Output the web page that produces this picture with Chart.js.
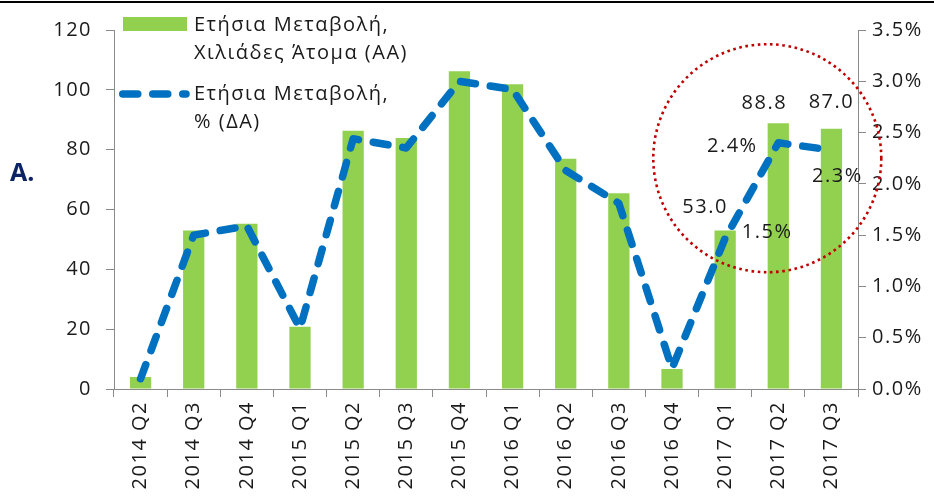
<!DOCTYPE html>
<html>
<head>
<meta charset="utf-8">
<script src="https://cdn.jsdelivr.net/npm/chart.js@4.4.1/dist/chart.umd.min.js"></script>
<style>
 html, body { margin: 0; padding: 0; background: #fff; }
 #wrap { position: relative; width: 934px; height: 497px; overflow: hidden; }
 #topline { position: absolute; left: 0; top: 1px; width: 934px; height: 2px; background: #000; }
 #mark { position: absolute; left: 10px; top: 154px; font: bold 25px "Open Sans"; color: #0c2466; }
</style>
</head>
<body>
<div id="wrap">
 <canvas id="chart" width="934" height="497"></canvas>
 <div id="topline"></div>
 <div id="mark">A.</div>
</div>
<script>
const quarters = ["2014 Q2", "2014 Q3", "2014 Q4", "2015 Q1", "2015 Q2", "2015 Q3", "2015 Q4",
 "2016 Q1", "2016 Q2", "2016 Q3", "2016 Q4", "2017 Q1", "2017 Q2", "2017 Q3"]

// annual change, thousands of persons (left axis)
const changeThousands = [4.0, 53.0, 55.2, 20.8, 86.3, 83.9, 106.2, 101.9, 77.0, 65.4, 6.7, 53.0, 88.8, 87.0]

// annual change, % (right axis)
const changePercent = [0.1, 1.5, 1.59, 0.59, 2.44, 2.35, 3.0, 2.92, 2.13, 1.81, 0.2, 1.47, 2.4, 2.33]

const barLabel = ["Ετήσια Μεταβολή,", "Χιλιάδες Άτομα (ΑΑ)"]
const lineLabel = ["Ετήσια Μεταβολή,", "% (ΔΑ)"]

// points that carry a value label
const labelledPoints = [11, 12, 13]

const leftTicks = [0, 20, 40, 60, 80, 100, 120]
const rightTicks = [0, 0.5, 1, 1.5, 2, 2.5, 3, 3.5]

const green = "#92d050"
const blue = "#0070c0"
const textColor = "#1a1a1a"
const axisColor = "#8a8a8a"
const font = { family: "Open Sans", size: 20 }
const spacing = "1.5px"

// extra text and marks drawn on top of the chart
const extras = {
 id: "extras",
 beforeUpdate(chart) { chart.ctx.letterSpacing = spacing },
 beforeDraw(chart) { chart.ctx.letterSpacing = spacing },
 afterDraw(chart) {
  const ctx = chart.ctx
  const x = chart.scales.x
  const y = chart.scales.y
  const y2 = chart.scales.y2
  ctx.save()
  ctx.letterSpacing = spacing
  ctx.font = font.size + "px " + font.family
  ctx.fillStyle = textColor
  ctx.textAlign = "center"
  ctx.textBaseline = "middle"

  const barOff = [[-20, -23], [-14, -20], [0, -26]]
  const lineOff = [[42, -6], [-46, 3], [6, 26]]
  labelledPoints.forEach((i, k) => {
   const bx = x.getPixelForValue(i)
   ctx.fillText(changeThousands[i].toFixed(1), bx + barOff[k][0], y.getPixelForValue(changeThousands[i]) + barOff[k][1])
   ctx.fillText(changePercent[i].toFixed(1) + "%", bx + lineOff[k][0], y2.getPixelForValue(changePercent[i]) + lineOff[k][1])
  })

  // legend
  const ds = chart.data.datasets
  ctx.textAlign = "left"
  ctx.fillStyle = ds[0].backgroundColor
  ctx.fillRect(123, 17, 64, 14)
  ctx.fillStyle = textColor
  ds[0].label.forEach((t, k) => ctx.fillText(t, 194, 25 + k * 28))

  ctx.strokeStyle = ds[1].borderColor
  ctx.lineWidth = ds[1].borderWidth
  ctx.lineCap = "round"
  ctx.setLineDash(ds[1].borderDash)
  ctx.beginPath()
  ctx.moveTo(122.75, 94)
  ctx.lineTo(186, 94)
  ctx.stroke()
  ds[1].label.forEach((t, k) => ctx.fillText(t, 194, 94 + k * 28))

  // red dotted circle round the last quarters
  ctx.strokeStyle = "#c00000"
  ctx.lineWidth = 2.6
  ctx.lineCap = "butt"
  ctx.setLineDash([2.6, 3.6])
  ctx.beginPath()
  ctx.arc(x.getPixelForValue(12) - 11, y2.getPixelForValue(2.25), 114, 0, Math.PI * 2)
  ctx.stroke()
  ctx.restore()
 }
}

const chart = new Chart(document.getElementById("chart"), {
 type: "bar",
 data: {
  labels: quarters,
  datasets: [{
   type: "bar",
   label: barLabel,
   data: changeThousands,
   yAxisID: "y",
   backgroundColor: green,
   categoryPercentage: 1,
   barPercentage: 0.4,
   order: 1
  }, {
   type: "line",
   label: lineLabel,
   data: changePercent,
   yAxisID: "y2",
   borderColor: blue,
   borderWidth: 7.5,
   borderDash: [15, 15],
   borderCapStyle: "round",
   borderJoinStyle: "round",
   pointRadius: 0,
   tension: 0,
   fill: false,
   order: 0
  }]
 },
 options: {
  responsive: false,
  animation: false,
  layout: { padding: { top: 30, left: 0, right: 0, bottom: 0 } },
  plugins: { legend: { display: false }, tooltip: { enabled: false } },
  scales: {
   x: {
    grid: { display: true, drawOnChartArea: false, tickLength: 8, color: axisColor, offset: true },
    border: { color: axisColor },
    ticks: { minRotation: 90, maxRotation: 90, autoSkip: false, padding: 4, color: textColor, font: font },
    afterFit: s => { s.height = 108 }
   },
   y: {
    position: "left",
    min: 0,
    max: 120,
    afterBuildTicks: s => { s.ticks = leftTicks.map(v => ({ value: v })) },
    grid: { drawOnChartArea: false, tickLength: 8, color: axisColor },
    border: { color: axisColor },
    ticks: { padding: 14, color: textColor, font: font },
    afterFit: s => { s.width = 114 }
   },
   y2: {
    position: "right",
    min: 0,
    max: 3.5,
    afterBuildTicks: s => { s.ticks = rightTicks.map(v => ({ value: v })) },
    grid: { drawOnChartArea: false, tickLength: 8, color: axisColor },
    border: { color: axisColor },
    ticks: { padding: 6, color: textColor, font: font, callback: v => v.toFixed(1) + "%" },
    afterFit: s => { s.width = 76 }
   }
  }
 },
 plugins: [extras]
})
</script>
</body>
</html>
